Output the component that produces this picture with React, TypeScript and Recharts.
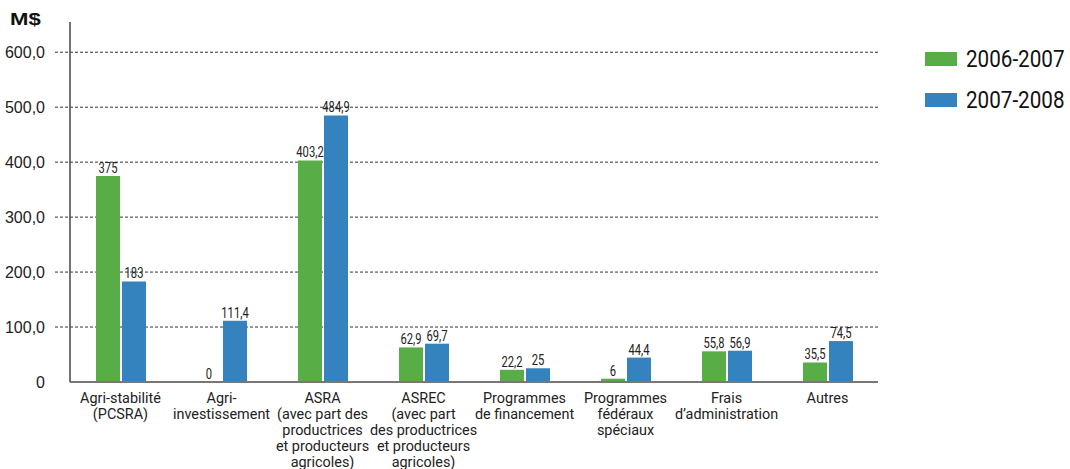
// Dépenses par programme — 2006-2007 vs 2007-2008 (Recharts)
import {
  BarChart, Bar, XAxis, YAxis, CartesianGrid, LabelList, Label,
} from 'recharts';

const CATEGORIES = [
  ['Agri-stabilité', '(PCSRA)'],
  ['Agri-', 'investissement'],
  ['ASRA', '(avec part des', 'productrices', 'et producteurs', 'agricoles)'],
  ['ASREC', '(avec part', 'des productrices', 'et producteurs', 'agricoles)'],
  ['Programmes', 'de financement'],
  ['Programmes', 'fédéraux', 'spéciaux'],
  ['Frais', 'd’administration'],
  ['Autres'],
];

const VALUES_2006 = [375, 0, 403.2, 62.9, 22.2, 6, 55.8, 35.5];
const VALUES_2007 = [183, 111.4, 484.9, 69.7, 25, 44.4, 56.9, 74.5];

const SERIES = [
  { key: 'a', name: '2006-2007', color: '#58ad46' },
  { key: 'b', name: '2007-2008', color: '#3583be' },
];

const Y_TICKS = [0, 100, 200, 300, 400, 500, 600];

const COND = "Roboto, 'DejaVu Sans Condensed', sans-serif";
const SANS = "'Liberation Sans', Arial, sans-serif";

const data = CATEGORIES.map((lines, i) => ({
  name: lines.join(' '),
  a: VALUES_2006[i],
  b: VALUES_2007[i],
}));

const fmt = (v: any) => String(v).replace('.', ',');

function YTick({ y, payload }: any) {
  const v = payload.value;
  return (
    <g>
      {v > 0 && (
        <line x1={55} x2={70} y1={y} y2={y} stroke="#333" strokeDasharray="3 2" />
      )}
      <text x={45} y={y} textAnchor="end" dominantBaseline="central"
        fontFamily={SANS} fontSize={16} fill="#222">
        {v === 0 ? '0' : v.toFixed(1).replace('.', ',')}
      </text>
    </g>
  );
}

function XTick({ x, y, index }: any) {
  const lines = CATEGORIES[index] || [];
  return (
    <g transform={`translate(${x},${y + 13}) scale(1.03,1)`}>
      <text x={0} y={0} textAnchor="middle" fontFamily={COND} fontSize={14} fill="#222">
        {lines.map((l: string, i: number) => (
          <tspan key={i} x={0} dy={i === 0 ? 0 : 16}>{l}</tspan>
        ))}
      </text>
    </g>
  );
}

function ValueLabel({ x, y, width, value }: any) {
  return (
    <g transform={`translate(${x + width / 2},${y - 3}) scale(0.8,1)`}>
      <text x={0} y={0} textAnchor="middle" fontFamily={COND} fontSize={14} fill="#222">
        {fmt(value)}
      </text>
    </g>
  );
}

export default function App() {
  return (
    <div style={{ position: 'relative', width: 1070, height: 469, background: '#fff' }}>
      <style>{'body{margin:0}'}</style>
      <BarChart
        width={1070}
        height={469}
        data={data}
        margin={{ top: 22, right: 192, left: 0, bottom: 0 }}
        barSize={24}
        barGap={2}
      >
        <CartesianGrid vertical={false} stroke="#333" strokeDasharray="3 2" syncWithTicks />
        <XAxis
          dataKey="name"
          height={87}
          interval={0}
          tickLine={false}
          axisLine={{ stroke: '#777', strokeWidth: 2 }}
          tick={<XTick />}
        />
        <YAxis
          width={70}
          domain={[0, 655]}
          ticks={Y_TICKS}
          tickLine={false}
          axisLine={{ stroke: '#444', strokeWidth: 1.5 }}
          tick={<YTick />}
        >
          <Label
            content={() => (
              <g transform="translate(10,25) scale(1.3,1)">
                <text x={0} y={0} fontFamily={SANS} fontWeight="bold" fontSize={17} fill="#111">
                  M$
                </text>
              </g>
            )}
          />
        </YAxis>
        {SERIES.map((s) => (
          <Bar key={s.key} dataKey={s.key} name={s.name} fill={s.color}
            minPointSize={0.01} isAnimationActive={false}>
            <LabelList dataKey={s.key} content={<ValueLabel />} />
          </Bar>
        ))}
      </BarChart>
      <div style={{ position: 'absolute', left: 925, top: 38, fontFamily: COND, fontSize: 24, color: '#111', whiteSpace: 'nowrap' }}>
        {SERIES.map((s) => (
          <div key={s.key} style={{ display: 'flex', alignItems: 'center', height: 41 }}>
            <span style={{ width: 32, height: 14, background: s.color, marginRight: 9, display: 'inline-block', flex: 'none' }} />
            <span style={{ display: 'inline-block', transform: 'scaleX(0.86)', transformOrigin: 'left center' }}>
              {s.name}
            </span>
          </div>
        ))}
      </div>
    </div>
  );
}
